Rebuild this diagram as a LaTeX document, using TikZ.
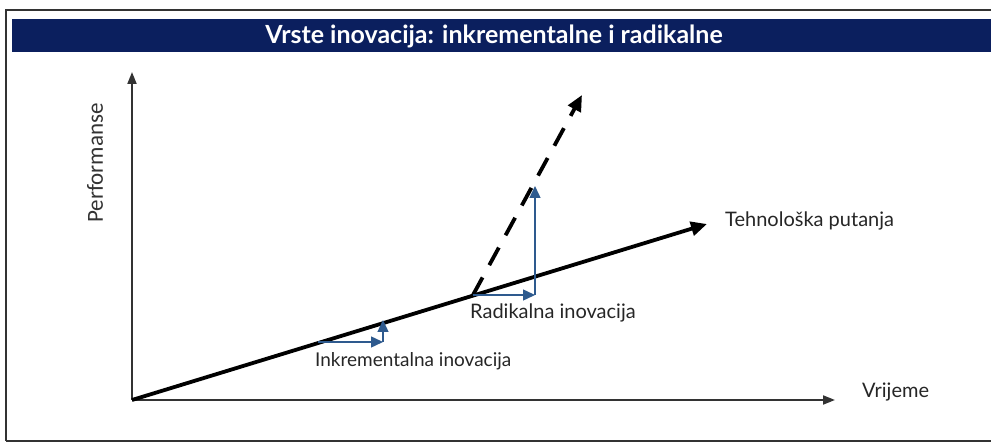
\documentclass[tikz,border=0pt]{standalone}
\usepackage{fontspec}
\setmainfont{Lato}
\newfontfamily\perffont{Carlito}
\usetikzlibrary{arrows.meta}
\definecolor{navy}{HTML}{0B1F5E}
\definecolor{stepblue}{HTML}{2E5A8E}
\definecolor{axisgray}{HTML}{333333}
\tikzset{
  axisline/.style={draw=axisgray, line width=1.8pt, -{Triangle[length=12pt,width=9pt]}},
  trajline/.style={draw=black, line width=3.8pt, -{Triangle[length=16pt,width=14pt]}},
  radline/.style={draw=black, line width=3.8pt, dash pattern=on 20pt off 14pt, -{Triangle[length=16pt,width=14pt]}},
  stepline/.style={draw=stepblue, line width=1.4pt, -{Triangle[length=12pt,width=11pt]}},
  lbl/.style={inner sep=0pt, font=\fontsize{20}{24}\selectfont, text=black!85},
}
\begin{document}
\begin{tikzpicture}[x=1pt,y=-1pt]
\useasboundingbox (0,0) rectangle (991,443);
\fill[white] (0,0) rectangle (991,443);
% frame
\draw[black!80, line width=1.5pt] (6,441) -- (6,10) -- (991,10);
\draw[black!80, line width=1.5pt] (6,441) -- (991,441);
% title band
\fill[navy] (12,19) rectangle (991,52);
\node[inner sep=0pt, text=white, font=\bfseries\fontsize{25}{28}\selectfont] (title) at (494,36) {Vrste inovacija: inkrementalne i radikalne};
% axes
\coordinate (O) at (132,400);
\coordinate (ytop) at (132,72);
\coordinate (xend) at (835,400);
\draw[axisline] (O) -- (ytop);
\draw[axisline] (O) -- (xend);
\node[inner sep=0pt, rotate=90, font=\perffont\fontsize{23}{26}\selectfont, text=black!80] (perf) at (95,163) {Performanse};
\node[lbl, anchor=west] (vrijeme) at (862,392) {Vrijeme};
% trajectory
\coordinate (tend) at (707,224);
\draw[trajline] (O) -- (tend);
\node[lbl, anchor=west] (tehno) at (725,221) {Tehnološka putanja};
% incremental steps
\coordinate (i0) at (318,342);
\coordinate (i1) at (383,342);
\coordinate (i2) at (383,320);
\draw[stepline] (i0) -- (i1);
\draw[stepline] (i1) -- (i2);
\node[lbl, anchor=west, font=\fontsize{19}{23}\selectfont] (inkr) at (315,361) {Inkrementalna inovacija};
% radical
\coordinate (r0) at (473,295);
\coordinate (r1) at (535,295);
\coordinate (r2) at (535,186);
\coordinate (rend) at (582,95);
\draw[radline] (r0) -- (rend);
\draw[stepline] (r0) -- (r1);
\draw[stepline] (r1) -- (r2);
\node[lbl, anchor=west] (radi) at (470,313) {Radikalna inovacija};
\end{tikzpicture}
\end{document}
